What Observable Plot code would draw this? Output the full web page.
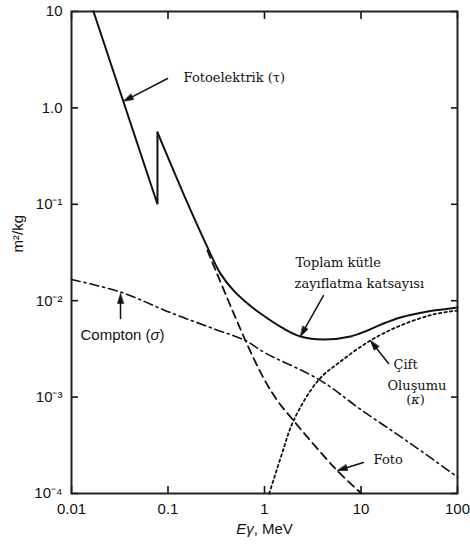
<!DOCTYPE html>
<html>
<head>
<meta charset="utf-8">
<script src="https://cdn.jsdelivr.net/npm/d3@7"></script>
<script src="https://cdn.jsdelivr.net/npm/@observablehq/plot@0.6"></script>
<style>
  html, body { margin: 0; padding: 0; background: #fff; }
  #chart { width: 470px; height: 547px; }
</style>
</head>
<body>
<div id="chart"></div>
<script>
// Axis ticks (decades) and their printed labels
const xTicks = [0.01, 0.1, 1, 10, 100];
const xTickLabels = ["0.01", "0.1", "1", "10", "100"];
const yTicks = [1e-4, 1e-3, 1e-2, 1e-1, 1, 10];
const yTickLabels = ["10⁻⁴", "10⁻³", "10⁻²", "10⁻¹", "1.0", "10"];

// Total mass attenuation coefficient (m²/kg) vs photon energy (MeV), with the K edge
const totalE  = [0.0169, 0.0778, 0.0778, 0.15, 0.256, 0.35, 0.477, 0.667, 0.91, 1.57, 2.36, 4.08, 7.78, 11.7, 17.1, 25.6, 38.5, 56.4, 84.5, 100];
const totalMu = [10, 0.1, 0.556, 0.118, 0.036, 0.0191, 0.0128, 0.00935, 0.00736, 0.00515, 0.00426, 0.00396, 0.00426, 0.00491, 0.0058, 0.0067, 0.00736, 0.0079, 0.0083, 0.0085];

// Photoelectric part above the point where it leaves the total curve
const photoE  = [0.256, 0.635, 0.977, 1.36, 2.0, 5.45, 10.1];
const photoMu = [0.0332, 0.00386, 0.00158, 0.00092, 0.00057, 0.00018, 0.0001];

// Compton scattering
const comptonE  = [0.01, 0.033, 0.1, 0.3, 0.635, 1, 3.8, 10, 30, 100];
const comptonMu = [0.0166, 0.0122, 0.0077, 0.0051, 0.00386, 0.0029, 0.00149, 0.00074, 0.00035, 0.000148];

// Pair production
const pairE  = [1.12, 1.5, 2.0, 3.6, 6.0, 12.5, 25.7, 56, 100];
const pairMu = [0.0001, 0.00025, 0.00057, 0.00149, 0.0023, 0.00386, 0.00553, 0.0072, 0.0079];

// Curve labels (serif), left-aligned
const noteText = ["Fotoelektrik (τ)", "Toplam kütle", "zayıflatma katsayısı", "Çift", "Oluşumu", "Foto"];
const noteE    = [0.145, 2.09, 2.05, 21.7, 18.8, 13.5];
const noteMu   = [2.04, 0.0246, 0.0149, 0.00215, 0.0013, 0.000225];

// Centred symbol under "Oluşumu"
const symText = ["(κ)"];
const symE    = [36.7];
const symMu   = [0.000933];

// Compton label (sans-serif)
const comptonLabel   = ["Compton (σ)"];
const comptonLabelE  = [0.0124];
const comptonLabelMu = [0.00441];

// Pointer arrows: tail -> tip on the curve
const arrowFromE  = [0.0989, 0.0322, 4.08, 19.3, 10.6];
const arrowFromMu = [2.02, 0.00653, 0.0113, 0.00223, 0.00021];
const arrowToE    = [0.0346, 0.0322, 2.36, 12.5, 5.7];
const arrowToMu   = [1.17, 0.0119, 0.00426, 0.00386, 0.000173];

const SANS = "'Liberation Sans', Arial, Helvetica, sans-serif";
const SERIF = "'DejaVu Serif', serif";
const INK = "#111";

const rows = (xs, ys) => xs.map((x, i) => ({x, y: ys[i]}));
const total = rows(totalE, totalMu);
const photo = rows(photoE, photoMu);
const compton = rows(comptonE, comptonMu);
const pair = rows(pairE, pairMu);
const notes = noteText.map((t, i) => ({t, x: noteE[i], y: noteMu[i]}));
const syms = symText.map((t, i) => ({t, x: symE[i], y: symMu[i]}));
const compLab = comptonLabel.map((t, i) => ({t, x: comptonLabelE[i], y: comptonLabelMu[i]}));
const arrows = arrowFromE.map((_, i) => {
  const x1 = arrowFromE[i], y1 = arrowFromMu[i], x2 = arrowToE[i], y2 = arrowToMu[i];
  // screen direction on equal-decade log axes, clockwise from "up"
  const rot = Math.atan2(Math.log10(x2) - Math.log10(x1), Math.log10(y2) - Math.log10(y1)) * 180 / Math.PI;
  return {x1, y1, x2, y2, rot};
});

// Filled triangular arrow head with its point at the origin
const headShape = {
  draw(context, l, r) {
    context.moveTo(0, 0);
    context.lineTo(-r, l);
    context.lineTo(r, l);
    context.closePath();
  }
};

const plot = Plot.plot({
  width: 470,
  height: 547,
  marginLeft: 71,
  marginRight: 13,
  marginTop: 11,
  marginBottom: 54,
  style: {fontFamily: SANS, color: INK, background: "#fff", overflow: "visible"},
  x: {type: "log", domain: [0.01, 100]},
  y: {type: "log", domain: [1e-4, 10]},
  marks: [
    // tick labels
    Plot.axisX(xTicks, {anchor: "bottom", tickSize: 0, tickPadding: 10, fontSize: 15,
      tickFormat: d => xTickLabels[xTicks.indexOf(d)], label: null}),
    Plot.axisY(yTicks, {anchor: "left", tickSize: 0, tickPadding: 9, fontSize: 15,
      tickFormat: d => yTickLabels[yTicks.indexOf(d)], label: null}),
    // inward ticks on all four sides
    Plot.axisX(xTicks, {anchor: "bottom", tickSize: 7, dy: -7, strokeWidth: 1.6, tickFormat: () => "", label: null}),
    Plot.axisX(xTicks, {anchor: "top", tickSize: 7, dy: 7, strokeWidth: 1.6, tickFormat: () => "", label: null}),
    Plot.axisY(yTicks, {anchor: "left", tickSize: 7, dx: 7, strokeWidth: 1.6, tickFormat: () => "", label: null}),
    Plot.axisY(yTicks, {anchor: "right", tickSize: 7, dx: -7, strokeWidth: 1.6, tickFormat: () => "", label: null}),
    Plot.frame({stroke: "#222", strokeWidth: 2}),

    // curves
    Plot.line(compton, {x: "x", y: "y", stroke: INK, strokeWidth: 1.6, strokeDasharray: "9,4,2,4", curve: "catmull-rom"}),
    Plot.line(pair, {x: "x", y: "y", stroke: INK, strokeWidth: 1.8, strokeDasharray: "2.5,3", curve: "catmull-rom"}),
    Plot.line(photo, {x: "x", y: "y", stroke: INK, strokeWidth: 1.8, strokeDasharray: "8,5", curve: "catmull-rom"}),
    Plot.line(total.slice(0, 3), {x: "x", y: "y", stroke: INK, strokeWidth: 2, strokeLinejoin: "miter"}),
    Plot.line(total.slice(2), {x: "x", y: "y", stroke: INK, strokeWidth: 2, curve: "catmull-rom"}),

    // pointer arrows
    Plot.arrow(arrows, {x1: "x1", y1: "y1", x2: "x2", y2: "y2", stroke: INK, strokeWidth: 1.5, headLength: 0, insetEnd: 6}),
    Plot.vector(arrows, {x: "x2", y: "y2", rotate: "rot", length: 10, r: 3, anchor: "start",
      shape: headShape, fill: INK, stroke: INK, strokeWidth: 0.6}),

    // labels
    Plot.text(notes, {x: "x", y: "y", text: "t", textAnchor: "start", fontFamily: SERIF, fontSize: 13, fill: INK}),
    Plot.text(syms, {x: "x", y: "y", text: "t", textAnchor: "middle", fontFamily: SERIF, fontSize: 13, fill: INK}),
    Plot.text(compLab, {x: "x", y: "y", text: "t", textAnchor: "start", fontFamily: SANS, fontSize: 15, fill: INK}),
    Plot.text(["m²/kg"], {frameAnchor: "left", dx: -53, rotate: -90, text: d => d, fontSize: 15, fontFamily: SANS, fill: INK}),
    Plot.text(["Eγ, MeV"], {frameAnchor: "bottom", dy: 40, text: d => d, fontSize: 15, fontFamily: SANS, fill: INK})
  ]
});

document.getElementById("chart").appendChild(plot);

// Italic Greek symbols (and the E of Eγ)
d3.select(plot).selectAll("text").each(function () {
  const s = this.textContent;
  let parts = null;
  if (s === "Eγ, MeV") parts = [["Eγ", true], [", MeV", false]];
  else if (s === "Compton (σ)") parts = [["Compton (", false], ["σ", true], [")", false]];
  else if (s === "(κ)") parts = [["(", false], ["κ", true], [")", false]];
  if (!parts) return;
  const el = d3.select(this);
  el.text(null);
  for (const [t, it] of parts) el.append("tspan").attr("font-style", it ? "italic" : null).text(t);
});
</script>
</body>
</html>
